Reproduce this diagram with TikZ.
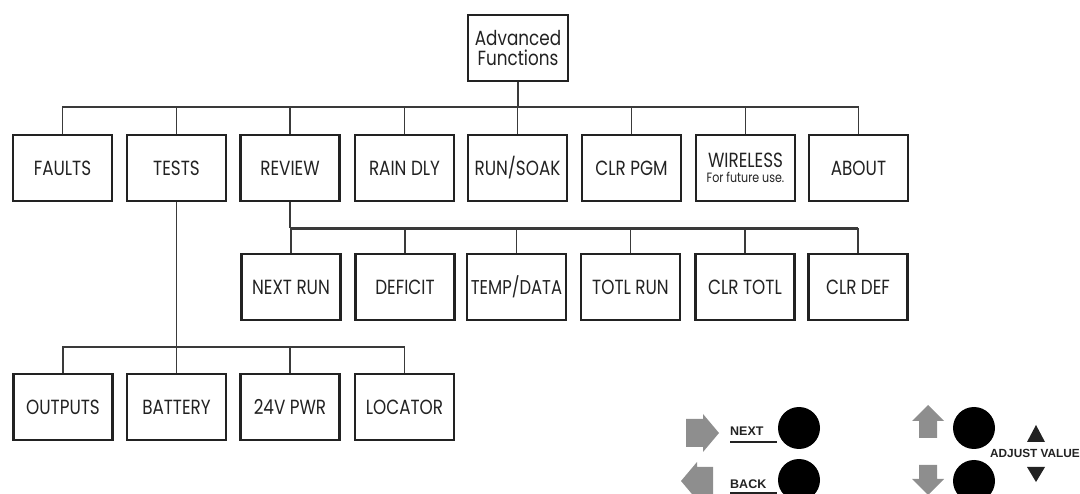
\documentclass[tikz,border=0pt]{standalone}
\usepackage{fontspec}
\setmainfont{Poppins}[FakeStretch=0.82]
\newfontfamily\labfont{Liberation Sans}
\definecolor{ink}{HTML}{222222}
\definecolor{wire}{HTML}{3A3A3A}
\definecolor{arrowgray}{HTML}{8E8E8E}
\begin{document}
\begin{tikzpicture}[x=1pt,y=-1pt,
  menubox/.style={draw=ink, line width=2.3pt, minimum width=99pt, minimum height=66pt,
    inner sep=0pt, align=center, text=ink, font=\fontsize{20.5}{22}\selectfont},
  link/.style={draw=wire, line width=1.2pt},
  thickbus/.style={draw=wire, line width=2.2pt},
  grayarrow/.style={fill=arrowgray, draw=none},
  knob/.style={circle, fill=black, draw=none, minimum size=42pt, inner sep=0pt},
  keylabel/.style={anchor=base west, inner sep=0pt, text=ink,
    font=\labfont\bfseries\fontsize{12.5}{13}\selectfont}
]
\useasboundingbox (0,0) rectangle (1080,494);
\clip (0,0) rectangle (1080,494);

% top
\node[menubox, minimum width=100pt] (af) at (518,48) {Advanced\\[-2pt]Functions};

% row 1
\node[menubox] (faults)   at (62.5,168)  {FAULTS};
\node[menubox] (tests)    at (176.5,168) {TESTS};
\node[menubox] (review)   at (290,168)   {REVIEW};
\node[menubox] (raindly)  at (404.5,168) {RAIN DLY};
\node[menubox] (runsoak)  at (517.5,168) {RUN/SOAK};
\node[menubox] (clrpgm)   at (631.5,168) {CLR PGM};
\node[menubox] (wireless) at (745.5,168) {\raisebox{-3pt}{WIRELESS}\\[-4pt]{\fontsize{13.5}{14}\selectfont For future use.}};
\node[menubox] (about)    at (858.5,168) {ABOUT};

% row 2
\node[menubox] (nextrun)  at (291,287)   {NEXT RUN};
\node[menubox] (deficit)  at (405,287)   {DEFICIT};
\node[menubox] (tempdata) at (516.5,287) {\fontsize{20}{22}\selectfont TEMP/DATA};
\node[menubox] (totlrun)  at (630.5,287) {TOTL RUN};
\node[menubox] (clrtotl)  at (745,287)   {CLR TOTL};
\node[menubox] (clrdef)   at (858,287)   {CLR DEF};

% row 3
\node[menubox] (outputs)  at (63,407)    {OUTPUTS};
\node[menubox] (battery)  at (176.5,407) {BATTERY};
\node[menubox] (pwr)      at (290,407)   {24V PWR};
\node[menubox] (locator)  at (404.5,407) {LOCATOR};

% bus coordinates
\coordinate (bus1) at (518,107);
\coordinate (bus2) at (290,228.5);
\coordinate (bus3) at (176.5,347);

% connectors level 1
\draw[link] (af.south) -- (bus1);
\foreach \n in {faults,tests,review,raindly,runsoak,clrpgm,wireless,about}
  \draw[link] (\n.north) |- (bus1);

% connectors level 2
\draw[link] (review.south) -- (bus2);
\draw[thickbus] (bus2) -- (clrdef.north |- bus2);
\foreach \n in {nextrun,deficit,tempdata,totlrun,clrtotl,clrdef}
  \draw[link] (\n.north) -- (\n.north |- bus2);

% connectors level 3
\draw[link] (tests.south) -- (bus3);
\foreach \n in {outputs,battery,pwr,locator}
  \draw[link] (\n.north) |- (bus3);

% control buttons
\fill[grayarrow] (686,419) -- (703,419) -- (703,414) -- (719,433) -- (703,452) -- (703,447) -- (686,447) -- cycle;
\fill[grayarrow] (713,467) -- (697,467) -- (697,462) -- (681,481) -- (697,500) -- (697,495) -- (713,495) -- cycle;
\fill[grayarrow] (919,438) -- (919,421) -- (912,421) -- (928,405) -- (944,421) -- (937,421) -- (937,438) -- cycle;
\fill[grayarrow] (919,465) -- (919,479) -- (912,479) -- (928,495) -- (944,479) -- (937,479) -- (937,465) -- cycle;

\node[knob] (nextknob) at (799,428) {};
\node[knob] (backknob) at (799,480) {};
\node[knob] (upknob)   at (974,428) {};
\node[knob] (downknob) at (974,481) {};

\node[keylabel] (nextlbl) at (730,436) {NEXT};
\node[keylabel] (backlbl) at (730,489) {BACK};
\draw[draw=ink, line width=1.4pt] (730,442) -- (777,442);
\draw[draw=ink, line width=1.4pt] (730,493) -- (777,493);

\node[keylabel, font=\labfont\bfseries\fontsize{11.8}{13}\selectfont] (adjlbl) at (990,457) {ADJUST VALUE};
\fill[ink] (1027,442) -- (1045,442) -- (1036,425) -- cycle;
\fill[ink] (1027,467) -- (1045,467) -- (1036,482) -- cycle;
\end{tikzpicture}
\end{document}
